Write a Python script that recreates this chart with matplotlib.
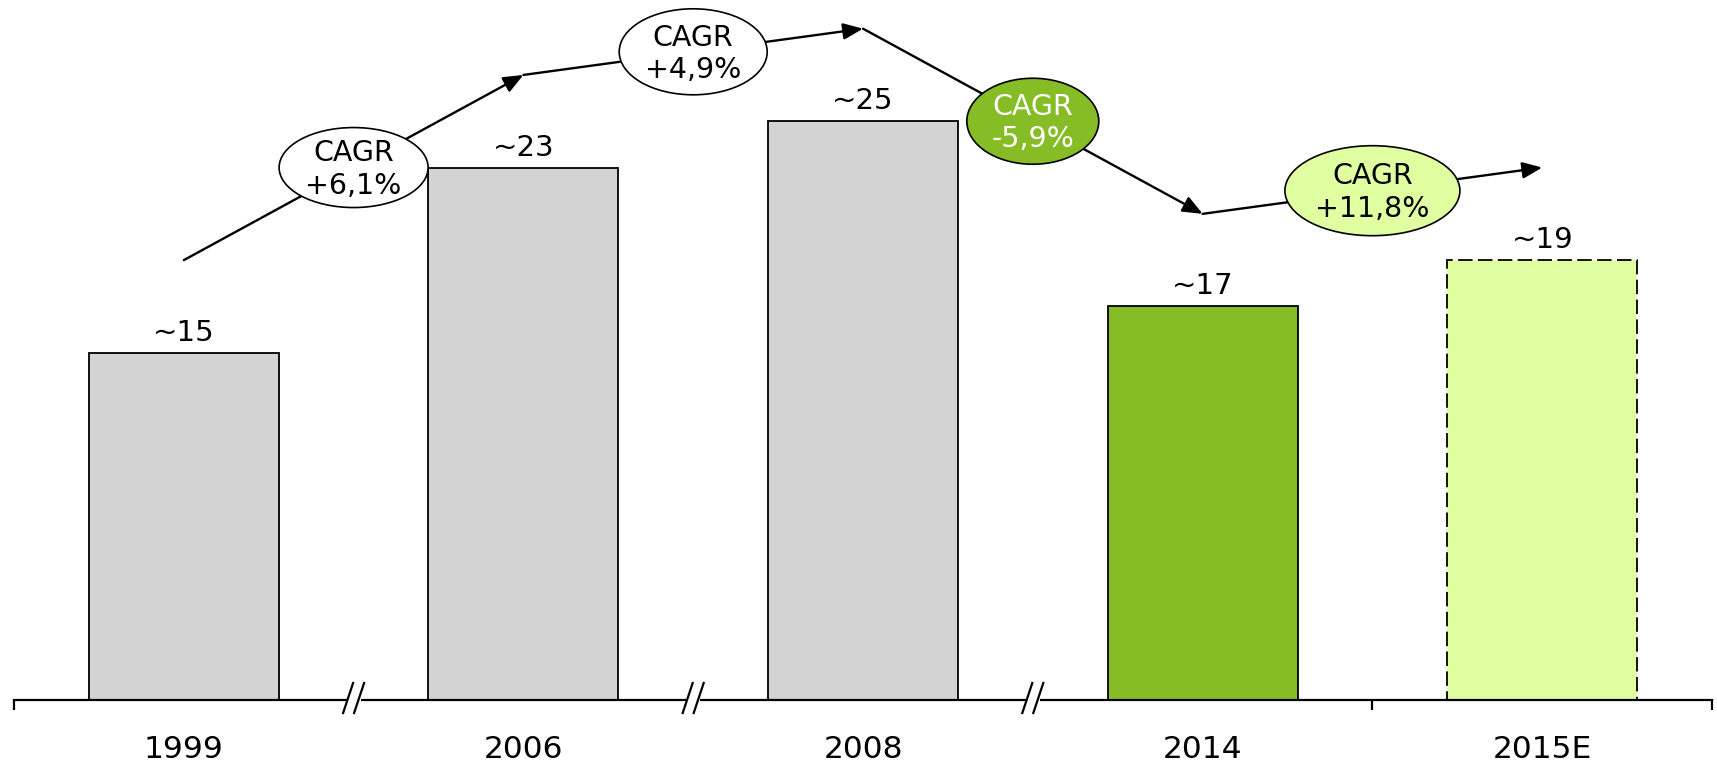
import matplotlib
matplotlib.use("Agg")
import matplotlib.pyplot as plt
from matplotlib.patches import Ellipse, FancyArrowPatch, Rectangle

years = ["1999", "2006", "2008", "2014", "2015E"]
values = [15, 23, 25, 17, 19]
value_labels = ["~15", "~23", "~25", "~17", "~19"]
bar_colors = ["#d3d3d3", "#d3d3d3", "#d3d3d3", "#86bc25", "#e0ffa0"]
bar_styles = ["solid", "solid", "solid", "solid", "dashed"]
cagr_labels = ["CAGR\n+6,1%", "CAGR\n+4,9%", "CAGR\n-5,9%", "CAGR\n+11,8%"]
cagr_fill = ["white", "white", "#86bc25", "#e0ffa0"]
cagr_text = ["black", "black", "white", "black"]
trend_offset = 4.0

W, H = 1717, 764
fig = plt.figure(figsize=(W / 100, H / 100), dpi=100)
plt.rcParams['font.family'] = ['DejaVu Sans']
ax_left, ax_right, ax_bottom = 14, 1712, 64
ax = fig.add_axes([ax_left / W, ax_bottom / H, (ax_right - ax_left) / W, (H - ax_bottom) / H])
ppx = (ax_right - ax_left) / 5.0          # pixels per x unit
ppy = 23.15                               # pixels per y unit
ax.set_xlim(-0.5, 4.5)
ax.set_ylim(0, (H - ax_bottom) / ppy)

x = list(range(len(years)))
for i, (v, c, s) in enumerate(zip(values, bar_colors, bar_styles)):
    if s == "dashed":
        ax.bar(i, v, width=0.56, color=c, edgecolor="black", linewidth=1.3,
               linestyle=(0, (8, 3)), zorder=2)
    else:
        ax.bar(i, v, width=0.56, color=c, edgecolor="black", linewidth=1.3, zorder=2)
    ax.text(i, v + 12 / ppy, value_labels[i], ha="center", va="baseline", fontsize=21, zorder=3)

# trend arrows
pts = [(i, v + trend_offset) for i, v in enumerate(values)]
for k in range(len(pts) - 1):
    a = FancyArrowPatch(pts[k], pts[k + 1], arrowstyle="-|>,head_length=0.6,head_width=0.25",
                        mutation_scale=20, color="black", lw=1.7, shrinkA=0, shrinkB=0, zorder=4)
    ax.add_patch(a)

ell_px = [(149, 80), (148, 86), (132, 86), (175, 90)]
for k in range(len(cagr_labels)):
    cx = (pts[k][0] + pts[k + 1][0]) / 2
    cy = (pts[k][1] + pts[k + 1][1]) / 2
    w, h = ell_px[k]
    e = Ellipse((cx, cy), w / ppx, h / ppy, facecolor=cagr_fill[k], edgecolor="black",
                lw=1.2, zorder=5)
    ax.add_patch(e)
    ax.text(cx, cy - 2 / ppy, cagr_labels[k], ha="center", va="center", fontsize=20.5,
            color=cagr_text[k], linespacing=1.2, zorder=6)

# axes styling
for sp in ["top", "right", "left"]:
    ax.spines[sp].set_visible(False)
ax.spines["bottom"].set_linewidth(1.6)
ax.set_yticks([])
ax.set_xticks([-0.5, 3.5, 4.5])
ax.set_xticklabels([])
ax.tick_params(axis="x", which="major", length=7.2, width=1.6, direction="out")
ax.set_xticks(x, minor=True)
ax.set_xticklabels(years, minor=True, fontsize=22.5)
ax.tick_params(axis="x", which="minor", length=0, pad=25)

# axis breaks
for b in [0.5, 1.5, 2.5]:
    ax.add_patch(Rectangle((b - 7 / ppx, -3 / ppy), 14 / ppx, 6 / ppy, facecolor="white",
                           edgecolor="none", clip_on=False, zorder=7))
    for off in (-5.5, 5.5):
        xc = b + off / ppx
        ax.plot([xc - 5 / ppx, xc + 5 / ppx], [-13 / ppy, 17 / ppy], color="black", lw=1.6,
                clip_on=False, zorder=8)

fig.savefig("out.png", dpi=100)
